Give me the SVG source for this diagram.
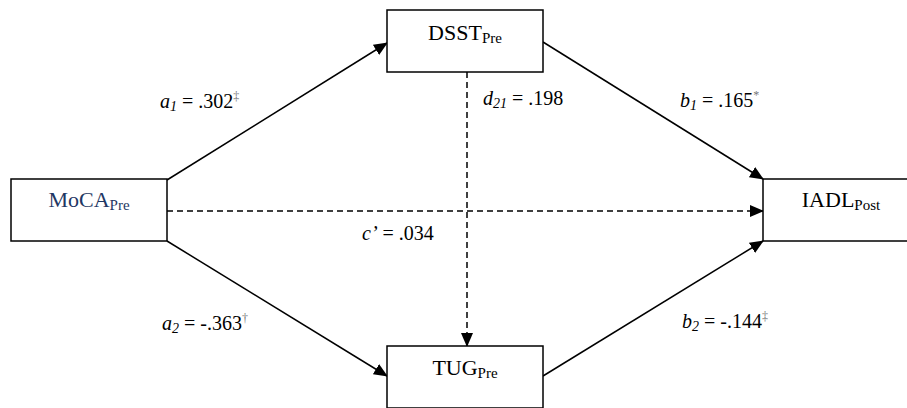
<svg xmlns="http://www.w3.org/2000/svg" width="907" height="408" viewBox="0 0 907 408">
<style>
.box{fill:#fff;stroke:#000;stroke-width:1.5}
text{font-family:'Liberation Serif','Times New Roman',Times,serif}
.t{font-size:22px;fill:#000}
.lab{font-size:20px;fill:#000}
.sub{font-size:15px}
.lsub{font-size:14px}
.sup{font-size:12px;fill:#777}
.ln{stroke:#000;stroke-width:1.5;fill:none}
.dash{stroke-dasharray:6 4}
</style>
<defs>
<marker id="ah" markerUnits="userSpaceOnUse" markerWidth="14" markerHeight="12" refX="13" refY="6" orient="auto">
<path d="M0,0 L14,6 L0,12 Z" fill="#000"/>
</marker>
</defs>
<g id="connectors">
<line class="ln" x1="167" y1="180" x2="387" y2="43" marker-end="url(#ah)"/>
<line class="ln" x1="543" y1="42" x2="763" y2="179" marker-end="url(#ah)"/>
<line class="ln" x1="167" y1="241" x2="387" y2="376" marker-end="url(#ah)"/>
<line class="ln" x1="543" y1="376" x2="763" y2="241" marker-end="url(#ah)"/>
<line class="ln dash" x1="167" y1="211" x2="763" y2="211" marker-end="url(#ah)"/>
<line class="ln dash" x1="467" y1="72" x2="467" y2="346" marker-end="url(#ah)"/>
</g>
<g id="moca">
<rect class="box" x="11" y="179" width="156" height="62"/>
<text class="t" x="89" y="207" text-anchor="middle" style="fill:#1F3864">MoCA<tspan class="sub" dy="3">Pre</tspan></text>
</g>
<g id="dsst">
<rect class="box" x="387" y="10" width="156" height="62"/>
<text class="t" x="465" y="40" text-anchor="middle">DSST<tspan class="sub" dy="3">Pre</tspan></text>
</g>
<g id="tug">
<rect class="box" x="387" y="346" width="156" height="62"/>
<text class="t" x="465" y="375" text-anchor="middle">TUG<tspan class="sub" dy="3">Pre</tspan></text>
</g>
<g id="iadl">
<rect class="box" x="763" y="179" width="156" height="62"/>
<text class="t" x="841" y="207" text-anchor="middle">IADL<tspan class="sub" dy="3">Post</tspan></text>
</g>
<g id="labels">
<text class="lab" x="160" y="108"><tspan font-style="italic">a</tspan><tspan class="lsub" font-style="italic" dy="3">1</tspan><tspan dy="-3"> = .302</tspan><tspan class="sup" dy="-8">‡</tspan></text>
<text class="lab" x="483" y="105"><tspan font-style="italic">d</tspan><tspan class="lsub" font-style="italic" dy="3">21</tspan><tspan dy="-3"> = .198</tspan></text>
<text class="lab" x="680" y="107"><tspan font-style="italic">b</tspan><tspan class="lsub" font-style="italic" dy="3">1</tspan><tspan dy="-3"> = .165</tspan><tspan class="sup" dy="-8">*</tspan></text>
<text class="lab" x="362" y="240"><tspan font-style="italic">c’</tspan> = .034</text>
<text class="lab" x="162" y="330"><tspan font-style="italic">a</tspan><tspan class="lsub" font-style="italic" dy="3">2</tspan><tspan dy="-3"> = -.363</tspan><tspan class="sup" dy="-8">†</tspan></text>
<text class="lab" x="682" y="328"><tspan font-style="italic">b</tspan><tspan class="lsub" font-style="italic" dy="3">2</tspan><tspan dy="-3"> = -.144</tspan><tspan class="sup" dy="-8">‡</tspan></text>
</g>
</svg>
